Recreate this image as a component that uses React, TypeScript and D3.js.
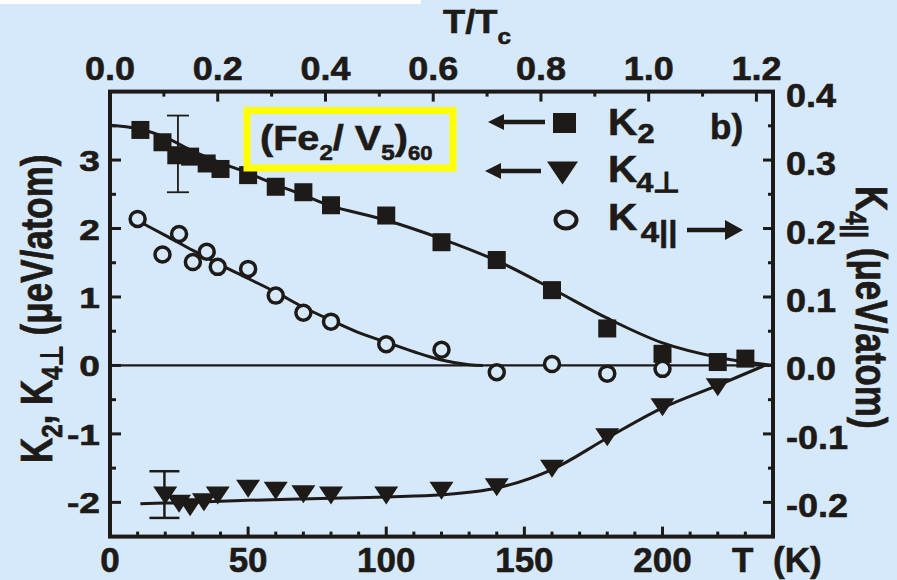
import React from 'react';
import * as d3 from 'd3';

// ---------- data ----------
const k2T = [11, 19, 24, 29, 35, 40, 50, 60, 70, 80, 100, 120, 140, 160, 180, 200, 220, 230];
const k2V = [3.44, 3.26, 3.07, 3.05, 2.95, 2.87, 2.78, 2.61, 2.53, 2.34, 2.19, 1.80, 1.54, 1.10, 0.54, 0.17, 0.05, 0.10];

const k4pT = [20, 25, 29, 34, 39, 50, 60, 70, 80, 100, 120, 140, 160, 180, 200, 220];
const k4pV = [-1.90, -2.02, -2.07, -2.00, -1.90, -1.80, -1.83, -1.88, -1.90, -1.90, -1.83, -1.78, -1.51, -1.05, -0.61, -0.32];

// K4|| in right-axis units (µeV/atom)
const k4lT = [10, 19, 25, 30, 35, 39, 50, 60, 70, 80, 100, 120, 140, 160, 180, 200];
const k4lV = [0.214, 0.162, 0.192, 0.151, 0.166, 0.144, 0.141, 0.102, 0.077, 0.064, 0.031, 0.023, -0.010, 0.002, -0.012, -0.005];

// fit curves
const k2FitT = [0, 10, 20, 30, 40, 50, 60, 70, 80, 100, 120, 140, 160, 180, 200, 220, 240];
const k2FitV = [3.51, 3.46, 3.33, 3.13, 2.96, 2.81, 2.64, 2.49, 2.33, 2.12, 1.85, 1.53, 1.12, 0.69, 0.33, 0.12, 0.0];

const k4pFitT = [11, 20, 30, 50, 80, 100, 120, 140, 160, 180, 200, 220, 237];
const k4pFitV = [-2.02, -2.01, -2.0, -1.97, -1.94, -1.92, -1.89, -1.79, -1.52, -1.06, -0.62, -0.29, 0.0];

const k4lFitT = [7, 20, 30, 40, 50, 60, 70, 80, 90, 100, 110, 120, 130, 135];
const k4lFitV = [0.218, 0.190, 0.168, 0.147, 0.127, 0.107, 0.085, 0.066, 0.048, 0.034, 0.020, 0.008, 0.001, 0.0];

// error bars
const errT = [24.6, 19.7];
const errLow = [2.53, -2.227];
const errHigh = [3.65, -1.545];

// axes
const Tc = 195;
const xDomain = [0, 240];
const yLeftDomain = [-2.5, 4];
const yRightDomain = [-0.25, 0.4];
const bottomTicks = [0, 50, 100, 150, 200];
const topTicks = [0.0, 0.2, 0.4, 0.6, 0.8, 1.0, 1.2];
const leftTicks = [-2, -1, 0, 1, 2, 3];
const rightTicks = [-0.2, -0.1, 0.0, 0.1, 0.2, 0.3, 0.4];

const BG = '#d6e9fb';
const INK = '#1d1a17';
const FONT = "'Liberation Sans', Arial, Helvetica, sans-serif";

const L = 110, R = 773, TOP = 91.6, BOT = 536.6;

const textStyle = { fontWeight: 'bold' as const, fontFamily: FONT, fill: INK, stroke: INK, strokeWidth: 0.6 };

function Txt({ x, y, size, sx = 1, anchor = 'start', rot = 0, children }: any) {
  return (
    <text
      transform={`translate(${x},${y}) scale(${sx},1)${rot ? ` rotate(${rot})` : ''}`}
      fontSize={size}
      textAnchor={anchor}
      style={textStyle}
    >
      {children}
    </text>
  );
}

export default function App() {
  const x = d3.scaleLinear().domain(xDomain).range([L, R]);
  const xTop = d3.scaleLinear().domain([0, xDomain[1] / Tc]).range([L, R]);
  const y = d3.scaleLinear().domain(yLeftDomain).range([BOT, TOP]);
  const yR = d3.scaleLinear().domain(yRightDomain).range([BOT, TOP]);

  const curve = d3.curveCatmullRom.alpha(0.5);
  const lineL = d3.line<[number, number]>().x(d => x(d[0])).y(d => y(d[1])).curve(curve);
  const lineR = d3.line<[number, number]>().x(d => x(d[0])).y(d => yR(d[1])).curve(curve);

  const zip = (a: number[], b: number[]) => a.map((v, i) => [v, b[i]] as [number, number]);

  const bottomMinor = d3.range(10, 240, 10).filter(v => v % 50 !== 0);
  const topMinor = d3.range(0.1, 1.23, 0.2);
  const leftMinor = d3.range(-2.5, 4, 0.5).filter(v => Math.abs(v - Math.round(v)) > 0.01 && v > -2.5);
  const rightMinor = d3.range(-0.25, 0.4, 0.1).map(v => +v.toFixed(2)).filter(v => v > -0.25);

  const sq = 18;
  const triW = 24, triH = 18;
  const tri = (cx: number, cy: number, w: number, h: number) =>
    `M${cx - w / 2},${cy - h / 2}L${cx + w / 2},${cy - h / 2}L${cx},${cy + h / 2}Z`;

  const tickW = 3;

  return (
    <svg
      width={897}
      height={580}
      style={{ position: 'absolute', left: 0, top: 0, display: 'block' }}
    >
      <rect x={0} y={0} width={897} height={580} fill={BG} />
      <rect x={0} y={0} width={421} height={4} fill="#ffffff" />

      {/* zero line */}
      <line x1={L} x2={R} y1={y(0)} y2={y(0)} stroke={INK} strokeWidth={2.2} />

      {/* fit curves */}
      <path d={lineL(zip(k2FitT, k2FitV)) || ''} fill="none" stroke={INK} strokeWidth={3} />
      <path d={lineL(zip(k4pFitT, k4pFitV)) || ''} fill="none" stroke={INK} strokeWidth={3} />
      <path d={lineR(zip(k4lFitT, k4lFitV)) || ''} fill="none" stroke={INK} strokeWidth={3} />

      {/* markers */}
      {k2T.map((t, i) => (
        <rect key={'s' + i} x={x(t) - sq / 2} y={y(k2V[i]) - sq / 2} width={sq} height={sq} fill={INK} />
      ))}
      {k4pT.map((t, i) => (
        <path key={'t' + i} d={tri(x(t), y(k4pV[i]), triW, triH)} fill={INK} />
      ))}
      {k4lT.map((t, i) => (
        <circle key={'c' + i} cx={x(t)} cy={yR(k4lV[i])} r={7.5} fill={BG} stroke={INK} strokeWidth={3.5} />
      ))}

      {/* error bars */}
      {errT.map((t, i) => {
        const cx = x(t);
        const cap = i === 0 ? 11 : 15;
        const sw = i === 0 ? 1.8 : 2.5;
        return (
          <g key={'e' + i} stroke={INK} strokeWidth={sw}>
            <line x1={cx} x2={cx} y1={y(errLow[i])} y2={y(errHigh[i])} />
            <line x1={cx - cap} x2={cx + cap} y1={y(errLow[i])} y2={y(errLow[i])} />
            <line x1={cx - cap} x2={cx + cap} y1={y(errHigh[i])} y2={y(errHigh[i])} />
          </g>
        );
      })}

      {/* frame */}
      <rect x={L} y={TOP} width={R - L} height={BOT - TOP} fill="none" stroke={INK} strokeWidth={4} />

      {/* bottom ticks */}
      {bottomTicks.map(v => (
        <line key={'bt' + v} x1={x(v)} x2={x(v)} y1={BOT} y2={BOT - 10} stroke={INK} strokeWidth={tickW} />
      ))}
      {bottomMinor.map(v => (
        <line key={'bm' + v} x1={x(v)} x2={x(v)} y1={BOT} y2={BOT - 5} stroke={INK} strokeWidth={tickW} />
      ))}
      {bottomTicks.map(v => (
        <Txt key={'bl' + v} x={x(v)} y={572} size={35} anchor="middle">{String(v)}</Txt>
      ))}

      {/* top ticks */}
      {topTicks.map(v => (
        <line key={'tt' + v} x1={xTop(v)} x2={xTop(v)} y1={TOP} y2={TOP + 10} stroke={INK} strokeWidth={tickW} />
      ))}
      {topMinor.map((v, i) => (
        <line key={'tm' + i} x1={xTop(v)} x2={xTop(v)} y1={TOP} y2={TOP + 5} stroke={INK} strokeWidth={tickW} />
      ))}
      {topTicks.map(v => (
        <Txt key={'tl' + v} x={xTop(v)} y={80} size={34} sx={1.06} anchor="middle">{v.toFixed(1)}</Txt>
      ))}

      {/* left ticks */}
      {leftTicks.map(v => (
        <line key={'lt' + v} x1={L} x2={L + 11} y1={y(v)} y2={y(v)} stroke={INK} strokeWidth={tickW} />
      ))}
      {leftMinor.map((v, i) => (
        <line key={'lm' + i} x1={L} x2={L + 6} y1={y(v)} y2={y(v)} stroke={INK} strokeWidth={tickW} />
      ))}
      {leftTicks.map(v => (
        <Txt key={'ll' + v} x={100} y={y(v) + 11} size={29} sx={1.28} anchor="end">{String(v)}</Txt>
      ))}

      {/* right ticks */}
      {rightTicks.map(v => (
        <line key={'rt' + v} x1={R} x2={R - 10} y1={yR(v)} y2={yR(v)} stroke={INK} strokeWidth={tickW} />
      ))}
      {rightMinor.map((v, i) => (
        <line key={'rm' + i} x1={R} x2={R - 5} y1={yR(v)} y2={yR(v)} stroke={INK} strokeWidth={tickW} />
      ))}
      {rightTicks.map(v => (
        <Txt key={'rl' + v} x={786} y={yR(v) + 15} size={34} sx={1.06} anchor="start">{v.toFixed(1)}</Txt>
      ))}

      {/* axis titles */}
      <text transform="translate(443,33) scale(1.1,1)" fontSize={33} style={textStyle}>
        T/T<tspan fontSize={22} dy={11}>c</tspan>
      </text>
      <Txt x={732} y={572} size={35}>T</Txt>
      <Txt x={773} y={572} size={35}>(K)</Txt>

      <text transform="translate(52,463) scale(1.25,1) rotate(-90)" fontSize={35} style={textStyle}>
        K<tspan fontSize={24} dy={8}>2</tspan>
        <tspan dy={-8}>, K</tspan>
        <tspan fontSize={24} dy={8}>4⊥</tspan>
        <tspan dy={-8}> (μeV/atom)</tspan>
      </text>

      <text transform="translate(856,186) scale(1.25,1) rotate(90)" fontSize={35} style={textStyle}>
        K<tspan fontSize={24} dy={8}>4||</tspan>
        <tspan dy={-8}> (μeV/atom)</tspan>
      </text>

      {/* sample label */}
      <rect x={247} y={110.5} width={206} height={57.5} fill="none" stroke="#ffff00" strokeWidth={7} />
      <text transform="translate(260,150) scale(1.1,1)" fontSize={36} style={textStyle}>
        (Fe<tspan fontSize={22} dy={10}>2</tspan>
        <tspan dy={-10}>/ V</tspan>
        <tspan fontSize={22} dy={10}>5</tspan>
        <tspan dy={-10}>)</tspan>
        <tspan fontSize={20} dy={10}>60</tspan>
      </text>

      {/* legend */}
      <line x1={545} x2={500} y1={122} y2={122} stroke={INK} strokeWidth={4.5} />
      <path d="M488,122L504,114L504,130Z" fill={INK} />
      <rect x={553} y={113} width={23} height={20} fill={INK} />
      <text transform="translate(608,135) scale(1.1,1)" fontSize={37} style={textStyle}>
        K<tspan fontSize={28} dy={8}>2</tspan>
      </text>
      <Txt x={710} y={139} size={35}>b)</Txt>

      <line x1={541} x2={497} y1={171} y2={171} stroke={INK} strokeWidth={4.5} />
      <path d="M485,171L501,163L501,179Z" fill={INK} />
      <path d={tri(562.5, 173, 31, 23)} fill={INK} />
      <text transform="translate(608,182) scale(1.1,1)" fontSize={37} style={textStyle}>
        K<tspan fontSize={28} dy={10} dx={-1}>4⊥</tspan>
      </text>

      <ellipse cx={566} cy={220} rx={10.5} ry={8.5} fill={BG} stroke={INK} strokeWidth={4} />
      <text transform="translate(608,230) scale(1.1,1)" fontSize={37} style={textStyle}>
        K<tspan fontSize={30} dy={12} dx={3}>4||</tspan>
      </text>
      <line x1={687} x2={728} y1={230} y2={230} stroke={INK} strokeWidth={4.5} />
      <path d="M743,230L725,220L725,240Z" fill={INK} />
    </svg>
  );
}
